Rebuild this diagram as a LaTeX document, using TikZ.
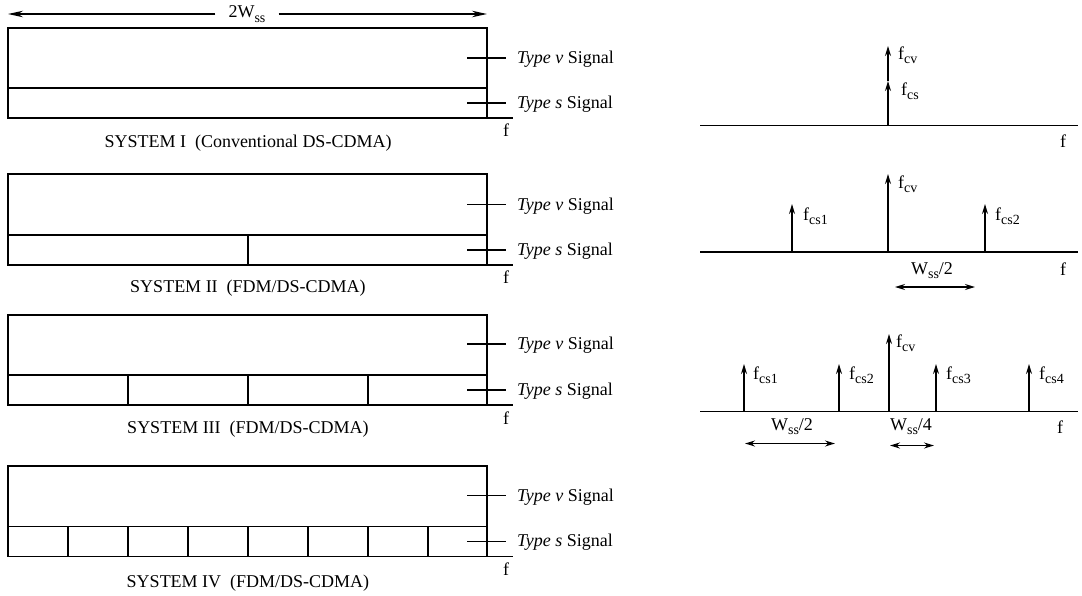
\documentclass[tikz,border=0pt]{standalone}
\usepackage{fontspec}
\setmainfont{Liberation Serif}
\usetikzlibrary{arrows.meta}
\tikzset{
  frame/.style={line width=1.6pt, line cap=rect},
  lbl/.style={font=\fontsize{18}{20}\selectfont, inner sep=0pt},
  spike/.style={line width=1.3pt, -{Stealth[length=10pt,width=6pt]}},
  dimarrow/.style={line width=1.3pt, {Stealth[length=10pt,width=6pt]}-{Stealth[length=10pt,width=6pt]}},
  axis/.style={line width=1.5pt}
}
\newcommand{\sub}[1]{\raisebox{-4.5pt}{\fontsize{14}{14}\selectfont #1}}
\begin{document}
\begin{tikzpicture}[x=1pt,y=-1pt]
\useasboundingbox (0,0) rectangle (1082,595);

% ---------- top dimension arrow ----------
\node[lbl, fill=white, inner xsep=13pt, inner ysep=2pt] (tw) at (247,14) {2W\sub{ss}};
\coordinate (twL) at (8,14);
\coordinate (twR) at (487,14);
\draw[line width=1.3pt, -{Stealth[length=15pt,width=6.5pt]}] (tw.west) -- (twL);
\draw[line width=1.3pt, -{Stealth[length=15pt,width=6.5pt]}] (tw.east) -- (twR);

% ---------- SYSTEM I ----------
\draw[frame] (8,28) rectangle (487,118);
\draw[frame] (8,88) -- (487,88);
\draw[frame] (487,118) -- (512,118);
\draw[frame] (468,58) -- (505,58);
\draw[frame] (468,103) -- (505,103);
\node[lbl, anchor=base west] (v1) at (517,63.5) {\textit{Type v} Signal};
\node[lbl, anchor=base west] (s1) at (517,108.5) {\textit{Type s} Signal};
\node[lbl, anchor=base] (f1) at (506,136) {f};
\node[lbl, anchor=base] (c1) at (248,147) {SYSTEM I\ \ (Conventional DS-CDMA)};

% ---------- SYSTEM II ----------
\draw[frame] (8,174) rectangle (487,265);
\draw[frame] (8,235) -- (487,235);
\draw[frame] (248,235) -- (248,265);
\draw[frame] (487,265) -- (512,265);
\draw[frame] (468,204.5) -- (505,204.5);
\draw[frame] (468,250) -- (505,250);
\node[lbl, anchor=base west] (v2) at (517,210) {\textit{Type v} Signal};
\node[lbl, anchor=base west] (s2) at (517,255) {\textit{Type s} Signal};
\node[lbl, anchor=base] (f2) at (506,283) {f};
\node[lbl, anchor=base] (c2) at (248,292) {SYSTEM II\ \ (FDM/DS-CDMA)};

% ---------- SYSTEM III ----------
\draw[frame] (8,315) rectangle (487,405);
\draw[frame] (8,375) -- (487,375);
\foreach \x in {128,248,368} \draw[frame] (\x,375) -- (\x,405);
\draw[frame] (487,405) -- (512,405);
\draw[frame] (468,344) -- (505,344);
\draw[frame] (468,390) -- (505,390);
\node[lbl, anchor=base west] (v3) at (517,349.5) {\textit{Type v} Signal};
\node[lbl, anchor=base west] (s3) at (517,395) {\textit{Type s} Signal};
\node[lbl, anchor=base] (f3) at (506,424) {f};
\node[lbl, anchor=base] (c3) at (248,433) {SYSTEM III\ \ (FDM/DS-CDMA)};

% ---------- SYSTEM IV ----------
\draw[frame] (8,466) rectangle (487,556.5);
\draw[frame] (8,526.5) -- (487,526.5);
\foreach \x in {68,128,188,248,308,368,428} \draw[frame] (\x,526.5) -- (\x,556.5);
\draw[frame] (487,556.5) -- (512,556.5);
\draw[frame] (468,495.5) -- (505,495.5);
\draw[frame] (468,541.5) -- (505,541.5);
\node[lbl, anchor=base west] (v4) at (517,501) {\textit{Type v} Signal};
\node[lbl, anchor=base west] (s4) at (517,546.5) {\textit{Type s} Signal};
\node[lbl, anchor=base] (f4) at (506,575) {f};
\node[lbl, anchor=base] (c4) at (248,587) {SYSTEM IV\ \ (FDM/DS-CDMA)};

% ---------- Spectrum 1 ----------
\coordinate (a1L) at (700,125.5);
\coordinate (a1R) at (1078,125.5);
\draw[axis] (a1L) -- (a1R);
\coordinate (p1) at (888,125.5);
\coordinate (p1s) at (888,81);
\coordinate (p1v) at (888,46);
\draw[spike] (p1) -- (p1s);
\draw[spike] (p1s) -- (p1v);
\node[lbl, anchor=base west] (l1v) at (898,59) {f\sub{cv}};
\node[lbl, anchor=base west] (l1s) at (901,95) {f\sub{cs}};
\node[lbl, anchor=base] (g1) at (1063,147) {f};

% ---------- Spectrum 2 ----------
\coordinate (a2L) at (700,252);
\coordinate (a2R) at (1078,252);
\draw[axis] (a2L) -- (a2R);
\coordinate (q0) at (888,252);  \coordinate (q0t) at (888,174);
\coordinate (q1) at (792,252);  \coordinate (q1t) at (792,204);
\coordinate (q2) at (985,252);  \coordinate (q2t) at (985,204);
\draw[spike] (q0) -- (q0t);
\draw[spike] (q1) -- (q1t);
\draw[spike] (q2) -- (q2t);
\node[lbl, anchor=base west] (l2v) at (898,188) {f\sub{cv}};
\node[lbl, anchor=base west] (l2a) at (803,220) {f\sub{cs1}};
\node[lbl, anchor=base west] (l2b) at (995,220) {f\sub{cs2}};
\node[lbl, anchor=base] (w2) at (932,274) {W\sub{ss}/2};
\coordinate (d2L) at (895,287);
\coordinate (d2R) at (975,287);
\draw[dimarrow] (d2L) -- (d2R);
\node[lbl, anchor=base] (g2) at (1063,275) {f};

% ---------- Spectrum 3 ----------
\coordinate (a3L) at (700,411.5);
\coordinate (a3R) at (1078,411.5);
\draw[axis] (a3L) -- (a3R);
\coordinate (r0) at (889,411.5);  \coordinate (r0t) at (889,334);
\coordinate (r1) at (744,411.5);  \coordinate (r1t) at (744,364);
\coordinate (r2) at (839,411.5);  \coordinate (r2t) at (839,364);
\coordinate (r3) at (936,411.5);  \coordinate (r3t) at (936,364);
\coordinate (r4) at (1029,411.5); \coordinate (r4t) at (1029,364);
\draw[spike] (r0) -- (r0t);
\draw[spike] (r1) -- (r1t);
\draw[spike] (r2) -- (r2t);
\draw[spike] (r3) -- (r3t);
\draw[spike] (r4) -- (r4t);
\node[lbl, anchor=base west] (l3v) at (896,347) {f\sub{cv}};
\node[lbl, anchor=base west] (l3a) at (753,379) {f\sub{cs1}};
\node[lbl, anchor=base west] (l3b) at (849,379) {f\sub{cs2}};
\node[lbl, anchor=base west] (l3c) at (946,379) {f\sub{cs3}};
\node[lbl, anchor=base west] (l3d) at (1039,379) {f\sub{cs4}};
\node[lbl, anchor=base] (w3a) at (792,430) {W\sub{ss}/2};
\node[lbl, anchor=base] (w3b) at (911,430) {W\sub{ss}/4};
\coordinate (d3L) at (745,443.5);
\coordinate (d3R) at (835,443.5);
\draw[dimarrow] (d3L) -- (d3R);
\coordinate (e3L) at (890,445.5);
\coordinate (e3R) at (934,445.5);
\draw[dimarrow] (e3L) -- (e3R);
\node[lbl, anchor=base] (g3) at (1060,433) {f};
\end{tikzpicture}
\end{document}
